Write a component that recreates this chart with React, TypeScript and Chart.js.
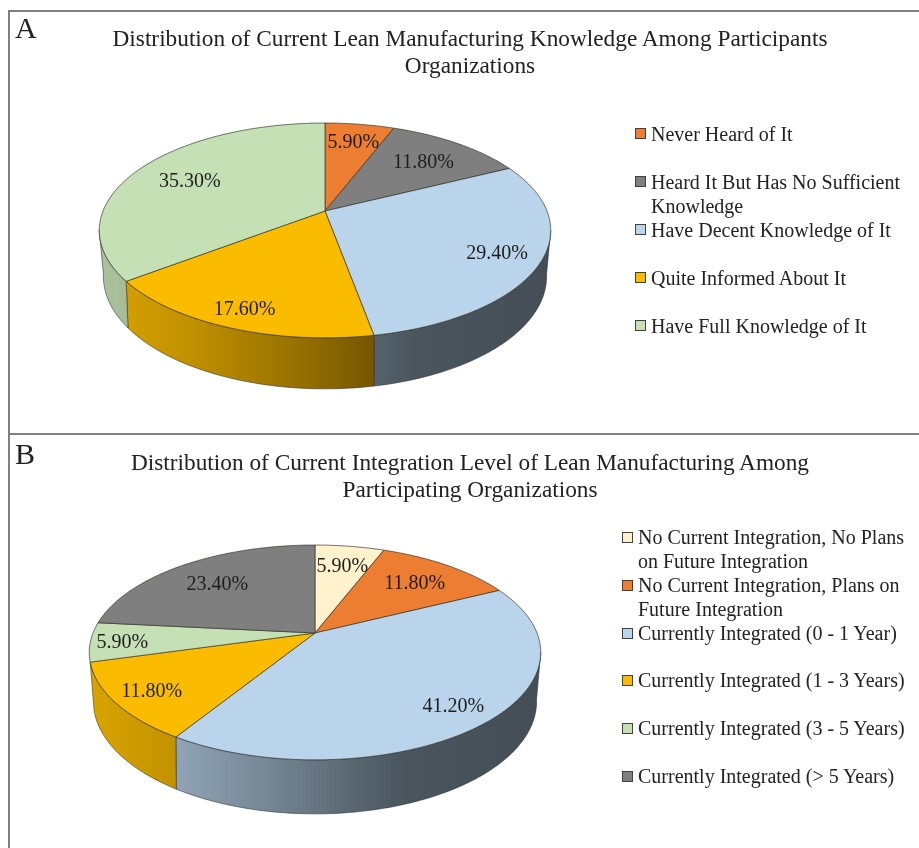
import React, { useEffect, useRef } from "react";
import { Chart, registerables } from "chart.js";

Chart.register(...registerables);

const FONT = '"Liberation Serif", "Times New Roman", serif';

// Panel A
const titleA = ["Distribution of Current Lean Manufacturing Knowledge Among Participants", "Organizations"];
const categoriesA = [
  "Never Heard of It",
  "Heard It But Has No Sufficient Knowledge",
  "Have Decent Knowledge of It",
  "Quite Informed About It",
  "Have Full Knowledge of It",
];
const valuesA = [5.9, 11.8, 29.4, 17.6, 35.3];
const colorsA = ["#ed7d31", "#7f7f7f", "#bad4eb", "#fbbc00", "#c5e0b4"];
const labelRadiusA = [0.79, 0.72, 0.81, 0.856, 0.72];

// Panel B
const titleB = ["Distribution of Current Integration Level of Lean Manufacturing Among", "Participating Organizations"];
const categoriesB = [
  "No Current Integration, No Plans on Future Integration",
  "No Current Integration, Plans on Future Integration",
  "Currently Integrated (0 - 1 Year)",
  "Currently Integrated (1 - 3 Years)",
  "Currently Integrated (3 - 5 Years)",
  "Currently Integrated (> 5 Years)",
];
const valuesB = [5.9, 11.8, 41.2, 11.8, 5.9, 23.4];
const colorsB = ["#fff2cc", "#ed7d31", "#bad4eb", "#fbbc00", "#c5e0b4", "#7f7f7f"];
const labelRadiusB = [0.76, 0.73, 0.826, 0.835, 0.86, 0.72];

// Horizontal shading of the pie's side wall (position across pie, brightness)
const wallShade: [number, number][] = [
  [0, 0.87],
  [0.2, 0.77],
  [0.4, 0.63],
  [0.6, 0.47],
  [0.7, 0.4],
  [1, 0.37],
];

function shade(hex: string, k: number) {
  const n = parseInt(hex.slice(1), 16);
  return `rgb(${((n >> 16) & 255) * k},${((n >> 8) & 255) * k},${(n & 255) * k})`;
}

const pie3d = {
  id: "pie3d",
  beforeDatasetsDraw(chart: any, _args: any, o: any) {
    const { ctx } = chart;
    const arcs = chart.getDatasetMeta(0).data;
    const colors = chart.data.datasets[0].backgroundColor;
    const a0 = arcs[0];
    const { x: cx, y: cy, outerRadius: R } = a0;
    const top = (c: number, s: number, f = 1) => {
      const w = 1 - o.persp * f * s;
      return [cx + (R * f * c) / w, cy + (R * o.squash * f * s) / w];
    };
    const bottom = (c: number, s: number) => {
      const w = 1 - o.wallPersp * s;
      return [cx + (R * o.wallScale * c) / w, cy + o.wallDrop + (R * o.wallSquash * s) / w];
    };
    const outline = (start: number, end: number, proj: (c: number, s: number) => number[]) => {
      const n = Math.max(8, Math.ceil((end - start) * 60));
      const pts: number[][] = [];
      for (let i = 0; i <= n; i++) {
        const a = start + ((end - start) * i) / n;
        pts.push(proj(Math.cos(a), Math.sin(a)));
      }
      return pts;
    };
    ctx.save();
    ctx.lineJoin = "round";
    // side wall: only the part of the rim that faces the viewer
    const wallStart = Math.asin(o.wallFromRight);
    const wallEnd = Math.PI - Math.asin(o.wallFromLeft);
    arcs.forEach((arc: any, i: number) => {
      const start = Math.max(arc.startAngle, wallStart);
      const end = Math.min(arc.endAngle, wallEnd);
      if (end <= start) return;
      const t = outline(start, end, top);
      const b = outline(start, end, bottom).reverse();
      const g = ctx.createLinearGradient(cx - R * 1.02, 0, cx + R * 1.02, 0);
      wallShade.forEach(([p, k]) => g.addColorStop(p, shade(colors[i], k)));
      ctx.beginPath();
      [...t, ...b].forEach(([x, y], j) => (j ? ctx.lineTo(x, y) : ctx.moveTo(x, y)));
      ctx.closePath();
      ctx.fillStyle = g;
      ctx.fill();
      ctx.strokeStyle = "rgba(45,45,45,0.7)";
      ctx.lineWidth = 0.8;
      ctx.stroke();
    });
    // top face
    arcs.forEach((arc: any, i: number) => {
      const t = outline(arc.startAngle, arc.endAngle, top);
      ctx.beginPath();
      ctx.moveTo(cx, cy);
      t.forEach(([x, y]) => ctx.lineTo(x, y));
      ctx.closePath();
      ctx.fillStyle = colors[i];
      ctx.fill();
      ctx.strokeStyle = "rgba(50,50,40,0.85)";
      ctx.lineWidth = 0.8;
      ctx.stroke();
    });
    // value labels
    const values = chart.data.datasets[0].data;
    ctx.fillStyle = "#1e1e1e";
    ctx.font = `${o.labelSize}px ${FONT}`;
    ctx.textAlign = "center";
    ctx.textBaseline = "middle";
    arcs.forEach((arc: any, i: number) => {
      const mid = (arc.startAngle + arc.endAngle) / 2;
      const [x, y] = top(Math.cos(mid), Math.sin(mid), o.labelRadius[i]);
      ctx.fillText(`${values[i].toFixed(2)}%`, x, y + 2);
    });
    ctx.restore();
    return false;
  },
};

function Pie3D(props: {
  left: number; top: number; width: number; height: number;
  padRight: number; padBottom: number; radius: number;
  labels: string[]; values: number[]; colors: string[]; labelRadius: number[];
  wallDrop: number; wallFromLeft: number;
}) {
  const ref = useRef<HTMLCanvasElement>(null);
  useEffect(() => {
    const chart = new Chart(ref.current as HTMLCanvasElement, {
      type: "pie",
      plugins: [pie3d as any],
      data: {
        labels: props.labels,
        datasets: [{ data: props.values, backgroundColor: props.colors }],
      },
      options: {
        responsive: false,
        animation: false,
        radius: props.radius,
        layout: { padding: { right: props.padRight, bottom: props.padBottom } },
        plugins: {
          legend: { display: false },
          tooltip: { enabled: false },
          pie3d: {
            squash: 0.468,
            persp: 0.181,
            wallScale: 0.978,
            wallSquash: 0.486,
            wallPersp: 0.2,
            wallDrop: props.wallDrop,
            wallFromRight: 0.18,
            wallFromLeft: props.wallFromLeft,
            labelRadius: props.labelRadius,
            labelSize: 20,
          },
        },
      } as any,
    });
    return () => chart.destroy();
  }, []);
  return (
    <canvas
      ref={ref}
      width={props.width}
      height={props.height}
      style={{ position: "absolute", left: props.left, top: props.top, width: props.width, height: props.height }}
    />
  );
}

function Title(props: { lines: string[]; top: number }) {
  return (
    <div
      style={{
        position: "absolute", left: 20, width: 900, top: props.top, textAlign: "center",
        fontSize: 23.3, lineHeight: "27px", color: "#222",
      }}
    >
      {props.lines.map((l) => (
        <div key={l}>{l}</div>
      ))}
    </div>
  );
}

function Legend(props: {
  left: number; top: number; width: number; labels: string[]; colors: string[]; line: number; size: number;
}) {
  return (
    <div style={{ position: "absolute", left: props.left, top: props.top, width: props.width, color: "#222", fontSize: props.size, lineHeight: `${props.line}px` }}>
      {props.labels.map((l, i) => (
        <div key={l} style={{ position: "relative", minHeight: props.line * 2, paddingLeft: 16 }}>
          <span
            style={{
              position: "absolute", left: 0, top: props.line / 2 - 6, width: 9, height: 9,
              background: props.colors[i], border: "1.5px solid #404040",
            }}
          />
          {l}
        </div>
      ))}
    </div>
  );
}

const panelLetter = (text: string, top: number) => (
  <div style={{ position: "absolute", left: 15, top, fontSize: 30, lineHeight: "30px", color: "#222" }}>{text}</div>
);

export default function App() {
  return (
    <div style={{ position: "absolute", left: 0, top: 0, width: 919, height: 848, overflow: "hidden", background: "#fff", fontFamily: FONT, filter: "blur(0.35px)" }}>
      <div style={{ position: "absolute", left: 8, top: 10, width: 911, height: 1.5, background: "#808080" }} />
      <div style={{ position: "absolute", left: 8, top: 10, width: 1.5, height: 838, background: "#808080" }} />
      <div style={{ position: "absolute", left: 8, top: 433, width: 911, height: 1.5, background: "#808080" }} />
      <Pie3D left={10} top={12} width={909} height={421} padRight={279} padBottom={23} radius={222}
        labels={categoriesA} values={valuesA} colors={colorsA} labelRadius={labelRadiusA} wallDrop={43} wallFromLeft={0.18} />
      <Pie3D left={10} top={435} width={909} height={413} padRight={299} padBottom={17} radius={222}
        labels={categoriesB} values={valuesB} colors={colorsB} labelRadius={labelRadiusB} wallDrop={46} wallFromLeft={0.27} />
      {panelLetter("A", 13)}
      {panelLetter("B", 439)}
      <Title lines={titleA} top={25} />
      <Title lines={titleB} top={449} />
      <Legend left={635} top={122} width={272} labels={categoriesA} colors={colorsA} line={24} size={20} />
      <Legend left={622} top={526} width={290} labels={categoriesB} colors={colorsB} line={23.9} size={20} />
    </div>
  );
}
